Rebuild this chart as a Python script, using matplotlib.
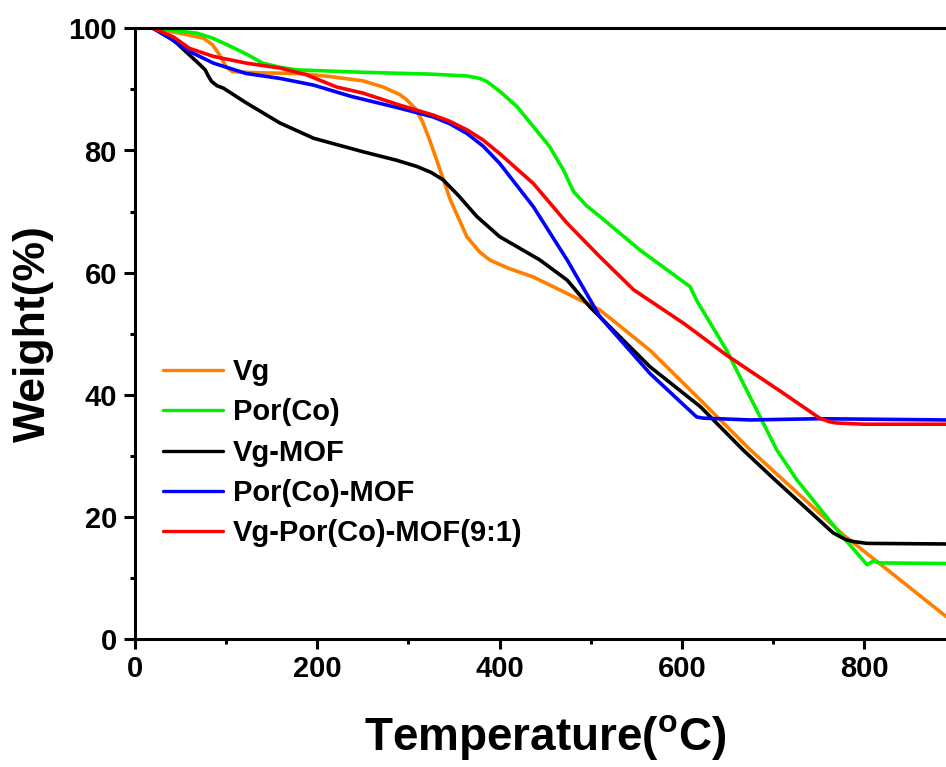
import matplotlib
matplotlib.use("Agg")
import matplotlib.pyplot as plt
from matplotlib.ticker import MultipleLocator

plt.rcParams['font.family'] = ['Liberation Sans', 'DejaVu Sans']
plt.rcParams['font.weight'] = 'bold'
plt.rcParams['mathtext.default'] = 'regular'

# ---- data ----
vg_T = [20, 49, 75, 85, 92, 100, 107, 120, 141, 181, 214, 250, 272, 290, 298, 308, 316, 324, 331, 346, 364, 378, 389, 410, 437, 474, 510, 565, 620, 675, 711, 777, 821, 890]
vg_W = [100, 99.2, 98.4, 97.3, 95.8, 93.7, 92.9, 92.8, 92.7, 92.6, 92.1, 91.4, 90.4, 89.2, 88.3, 86.8, 84.5, 81.4, 78.4, 71.9, 65.9, 63.4, 62.1, 60.7, 59.3, 56.6, 53.9, 47.3, 39.2, 31.0, 26.1, 17.1, 11.9, 3.7]

por_T = [20, 68, 85, 104, 122, 140, 160, 177, 250, 324, 364, 378, 386, 400, 419, 455, 470, 481, 495, 510, 554, 609, 616, 649, 704, 726, 773, 803, 810, 817, 890]
por_W = [100, 99.2, 98.4, 97.1, 95.8, 94.3, 93.6, 93.2, 92.8, 92.5, 92.2, 91.8, 91.3, 89.7, 87.2, 80.6, 76.8, 73.3, 71.0, 69.2, 63.7, 57.7, 55.5, 47.3, 31.0, 26.1, 17.4, 12.2, 12.8, 12.5, 12.4]

vgmof_T = [20, 42, 60, 68, 77, 80, 84, 90, 97, 122, 159, 196, 250, 287, 309, 325, 338, 355, 375, 400, 444, 474, 499, 565, 620, 667, 702, 766, 780, 788, 803, 890]
vgmof_W = [100, 98.1, 95.6, 94.5, 93.2, 92.3, 91.3, 90.6, 90.2, 87.8, 84.5, 82.0, 79.8, 78.4, 77.4, 76.4, 75.2, 72.6, 69.2, 65.9, 62.1, 58.8, 54.4, 44.6, 38.1, 31.0, 26.1, 17.4, 16.3, 16.0, 15.7, 15.6]

pormof_T = [20, 38, 60, 86, 122, 159, 196, 236, 291, 327, 345, 364, 382, 400, 437, 474, 510, 565, 616, 623, 675, 750, 890]
pormof_W = [100, 98.4, 96.2, 94.3, 92.6, 91.8, 90.7, 88.9, 86.9, 85.5, 84.4, 82.8, 80.7, 77.9, 70.8, 62.1, 52.8, 43.5, 36.4, 36.2, 35.9, 36.1, 35.9]

mix_T = [20, 42, 60, 86, 122, 159, 188, 221, 250, 291, 327, 345, 364, 382, 400, 437, 474, 510, 547, 602, 649, 711, 751, 762, 770, 800, 890]
mix_W = [100, 98.6, 96.7, 95.4, 94.3, 93.5, 92.4, 90.4, 89.4, 87.4, 85.8, 84.8, 83.4, 81.7, 79.5, 74.6, 68.1, 62.6, 57.2, 51.7, 46.5, 40.3, 36.2, 35.6, 35.4, 35.2, 35.2]

labels = ['Vg', 'Por(Co)', 'Vg-MOF', 'Por(Co)-MOF', 'Vg-Por(Co)-MOF(9:1)']
colors = ['#FF8000', '#00F000', '#000000', '#0000FF', '#FF0000']
series = [(vg_T, vg_W), (por_T, por_W), (vgmof_T, vgmof_W), (pormof_T, pormof_W), (mix_T, mix_W)]

fig = plt.figure(figsize=(9.46, 7.67), dpi=100)
ax = fig.add_axes([135/946, 1 - 639.3/767, 820.4/946, 611/767])

for (t, w), lab, c in zip(series, labels, colors):
    ax.plot(t, w, color=c, lw=2.6, label=lab, solid_capstyle='round', solid_joinstyle='round')

ax.set_xlim(0, 900)
ax.set_ylim(0, 100)
ax.xaxis.set_major_locator(MultipleLocator(200))
ax.xaxis.set_minor_locator(MultipleLocator(100))
ax.yaxis.set_major_locator(MultipleLocator(20))
ax.yaxis.set_minor_locator(MultipleLocator(10))
for s in ax.spines.values():
    s.set_linewidth(2.2)
ax.tick_params(which='major', direction='out', length=7, width=2.2, labelsize=21, pad=4)
ax.tick_params(which='minor', direction='out', length=3.5, width=2.2)
ax.tick_params(axis='y', which='major', length=8, pad=5)
for lbl in ax.get_xticklabels() + ax.get_yticklabels():
    lbl.set_fontweight('bold')

ax.set_xlabel(r'Temperature($\mathregular{^o}$C)', fontsize=33, fontweight='bold', labelpad=22)
ax.set_ylabel('Weight(%)', fontsize=32, fontweight='bold', labelpad=10)

leg = ax.legend(loc='upper left', bbox_to_anchor=(0.034, 0.46), frameon=False,
                prop={'size': 21, 'weight': 'bold'}, handlelength=2.05,
                handletextpad=0.35, labelspacing=0.42, borderpad=0, borderaxespad=0)
for h in leg.get_lines():
    h.set_linewidth(2.4)

fig.savefig('out.png', dpi=100)
